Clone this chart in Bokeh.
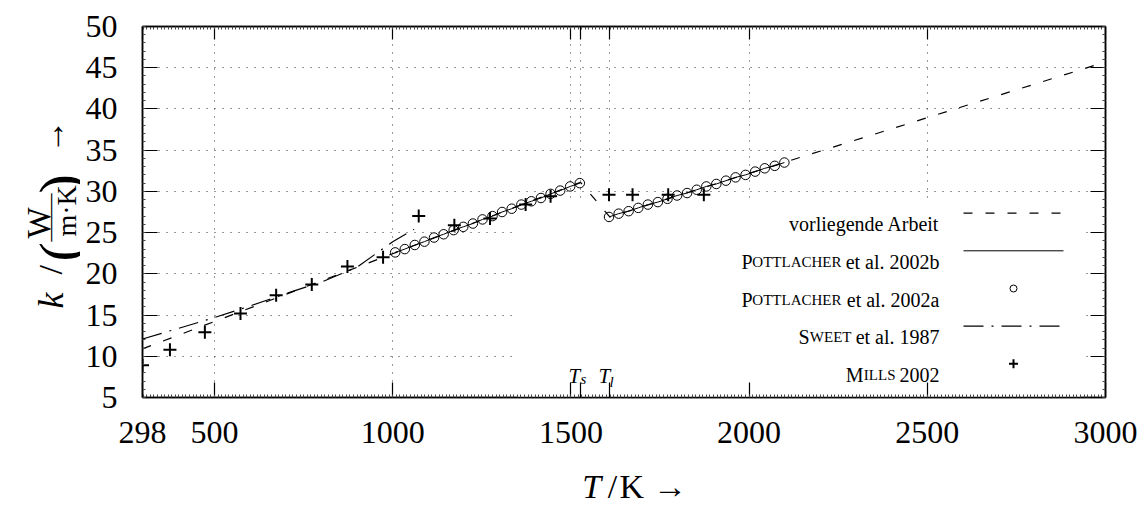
import math
from bokeh.plotting import figure
from bokeh.layouts import row, column
from bokeh.models import Range1d, FixedTicker, LinearAxis, Label
from bokeh.core.properties import value
from bokeh.embed import file_html
from bokeh.resources import INLINE

# ---------------- data ----------------
# vorliegende Arbeit (dashed)
T_present = [298, 1527, 1609, 3000]
k_present = [10.9, 31.1, 26.9, 45.7]

# Pottlacher et al. 2002a (circles) / 2002b (solid line), solid phase
T_pott_s = [1007, 1034, 1062, 1089, 1116, 1143, 1171, 1198, 1225, 1252,
            1280, 1307, 1334, 1361, 1389, 1416, 1443, 1470, 1498, 1525]
k_pott_s = [22.6, 23.0, 23.5, 23.9, 24.4, 24.8, 25.3, 25.7, 26.1, 26.6,
            27.0, 27.5, 27.9, 28.4, 28.8, 29.2, 29.7, 30.1, 30.6, 31.0]
# liquid phase
T_pott_l = [1607, 1634, 1662, 1689, 1716, 1744, 1771, 1798, 1826, 1853,
            1880, 1908, 1935, 1962, 1990, 2017, 2044, 2072, 2099]
k_pott_l = [26.9, 27.3, 27.6, 28.0, 28.4, 28.7, 29.1, 29.5, 29.8, 30.2,
            30.6, 30.9, 31.3, 31.7, 32.0, 32.4, 32.8, 33.1, 33.5]

# Sweet et al. 1987 (dash-dot)
T_sweet = [298, 400, 500, 600, 700, 800, 900, 1000, 1060]
k_sweet = [12.1, 13.4, 14.7, 16.1, 17.6, 19.0, 20.8, 23.9, 25.4]

# Mills 2002 (+)
T_mills = [298, 375, 473, 573, 673, 773, 873, 973, 1073, 1173, 1273,
           1373, 1443, 1607, 1673, 1773, 1873]
k_mills = [8.9, 10.8, 12.9, 15.2, 17.4, 18.7, 20.9, 22.0, 27.0, 25.9, 26.7,
           28.4, 29.4, 29.6, 29.6, 29.6, 29.6]

T_s, T_l = 1527, 1609
x_ticks = [298, 500, 1000, 1500, T_s, T_l, 2000, 2500, 3000]
x_grid = [500, 1000, 1500, T_s, T_l, 2000, 2500]
x_minor = list(range(300, 3000, 10))
y_ticks = [5, 10, 15, 20, 25, 30, 35, 40, 45, 50]
y_grid = [10, 15, 20, 25, 30, 35, 40, 45]
y_minor = list(range(5, 51, 1))

legend_labels = ["vorliegende Arbeit", "Pottlacher et al. 2002b",
                 "Pottlacher et al. 2002a", "Sweet et al. 1987", "Mills 2002"]

# ---------------- layout ----------------
W, H = 1144, 505
LW = 80          # width of the strip carrying the y-axis title
BH = 45          # height of the strip carrying the x-axis title
FX0, FX1, FY0, FY1 = 142, 1105, 26, 397   # frame in page pixels
X0, X1, Y0, Y1 = 298, 3000, 5, 50
FONT = "Liberation Serif"


def dx(px):
    return X0 + (px - FX0) / (FX1 - FX0) * (X1 - X0)


def dy(py):
    return Y1 - (py - FY0) / (FY1 - FY0) * (Y1 - Y0)


p = figure(width=W - LW, height=H - BH, x_range=Range1d(X0, X1), y_range=Range1d(Y0, Y1),
           output_backend="svg", toolbar_location=None, title=None,
           min_border_left=FX0 - LW, min_border_right=W - FX1,
           min_border_top=FY0, min_border_bottom=H - BH - FY1)
p.background_fill_color = "white"
p.border_fill_color = "white"
p.outline_line_color = "black"
p.outline_line_width = 1.5


def style_axis(ax, tick_in):
    ax.axis_line_color = "black"
    ax.axis_line_width = 1.5
    ax.major_tick_in = tick_in
    ax.major_tick_out = 0
    ax.minor_tick_in = 3
    ax.minor_tick_out = 0
    ax.major_tick_line_color = "black"
    ax.minor_tick_line_color = "#444444"
    ax.major_tick_line_width = 1.2
    ax.major_label_text_font = FONT
    ax.major_label_text_font_size = "32px"
    ax.major_label_text_color = "black"


p.xaxis.ticker = FixedTicker(ticks=x_ticks, minor_ticks=x_minor)
p.xaxis.major_label_overrides = {T_s: "", T_l: ""}
p.xaxis.major_label_standoff = 24
style_axis(p.xaxis[0], 15)
p.yaxis.ticker = FixedTicker(ticks=y_ticks, minor_ticks=y_minor)
p.yaxis.major_label_standoff = 25
style_axis(p.yaxis[0], 15)

top_ax = LinearAxis(ticker=FixedTicker(ticks=x_ticks, minor_ticks=x_minor),
                    major_label_overrides={t: "" for t in x_ticks}, major_label_standoff=0)
style_axis(top_ax, 13)
p.add_layout(top_ax, "above")
right_ax = LinearAxis(ticker=FixedTicker(ticks=y_ticks, minor_ticks=y_minor),
                      major_label_overrides={t: "" for t in y_ticks}, major_label_standoff=0)
style_axis(right_ax, 15)
p.add_layout(right_ax, "right")

p.xgrid.ticker = FixedTicker(ticks=x_grid)
p.ygrid.ticker = FixedTicker(ticks=y_grid)
for g in (p.xgrid[0], p.ygrid[0]):
    g.grid_line_color = "#333333"
    g.grid_line_dash = "1 7"
    g.grid_line_width = 1

# legend background (white box hides grid)
p.quad(left=[dx(517)], right=[dx(1080)], bottom=[dy(FY1)], top=[dy(198)],
       fill_color="white", line_color=None)

# ---------------- data glyphs ----------------
DASH = "9 13"
DASHDOT = "20 8 2 8"
p.line(T_present, k_present, line_color="black", line_width=1.2, line_dash=DASH)
p.line(T_sweet, k_sweet, line_color="black", line_width=1.2, line_dash=DASHDOT)
p.line(T_pott_s, k_pott_s, line_color="black", line_width=1)
p.line(T_pott_l, k_pott_l, line_color="black", line_width=1)
p.scatter(T_pott_s + T_pott_l, k_pott_s + k_pott_l, marker="circle", size=9.5,
          fill_alpha=0, line_color="black", line_width=1)
p.scatter(T_mills, k_mills, marker="cross", size=13, line_color="black", line_width=2)


def lab(px, py, text, size, style="normal", align="left", angle=0.0):
    p.add_layout(Label(x=dx(px), y=dy(py), text=text, text_font=FONT,
                       text_font_size=f"{size}px", text_font_style=style,
                       text_align=align, text_baseline="alphabetic",
                       text_color="black", angle=angle))


# ---------------- legend ----------------
rows = [212.7, 250.3, 288.0, 325.6, 363.3]
sx0, sx1, smid = 963, 1063, 1013
p.line([dx(sx0), dx(sx1)], [dy(rows[0])] * 2, line_color="black", line_width=1.2, line_dash=DASH)
p.line([dx(sx0), dx(sx1)], [dy(rows[1])] * 2, line_color="black", line_width=1)
p.scatter([dx(smid)], [dy(rows[2])], marker="circle", size=7, fill_alpha=0,
          line_color="black", line_width=1)
p.line([dx(sx0), dx(sx1 - 3)], [dy(rows[3])] * 2, line_color="black", line_width=1.2,
       line_dash=DASHDOT)
p.scatter([dx(smid)], [dy(rows[4])], marker="cross", size=9, line_color="black", line_width=2)

TR = 939
BL = 11
lab(TR, rows[0] + BL, legend_labels[0], 20, align="right")
for i, yr in ((1, "2002b"), (2, "2002a")):
    lab(TR, rows[i] + BL, "et al. " + yr, 20, align="right")
    lab(841, rows[i] + BL, "OTTLACHER", 15, align="right")
    lab(752, rows[i] + BL, "P", 20, align="right")
lab(TR, rows[3] + BL, "et al. 1987", 20, align="right")
lab(851, rows[3] + BL, "WEET", 15, align="right")
lab(809, rows[3] + BL, "S", 20, align="right")
lab(TR, rows[4] + BL, "2002", 20, align="right")
lab(895, rows[4] + BL, "ILLS", 15, align="right")
lab(863, rows[4] + BL, "M", 20, align="right")

# Ts / Tl markers
lab(568, 375, "T", 21, style="italic")
lab(580, 378, "s", 15, style="italic")
lab(598, 375, "T", 21, style="italic")
lab(609, 381, "l", 15, style="italic")


# ---------------- axis titles (own strips, pixel coordinates) ----------------
def strip(w, h):
    f = figure(width=w, height=h, x_range=Range1d(0, w), y_range=Range1d(0, h),
               output_backend="svg", toolbar_location=None, x_axis_type=None,
               y_axis_type=None, min_border=0, title=None)
    f.outline_line_color = None
    f.grid.visible = False
    f.background_fill_color = "white"
    f.border_fill_color = "white"
    return f


def stext(f, h, x, y, text, size, style="normal", angle=0.0):
    # x, y in pixels from the strip's top-left corner
    f.text(x=[x], y=[h - y], text=[text], text_font=value(FONT), text_font_size=f"{size}px",
           text_font_style=style, text_align="left", text_baseline="alphabetic",
           text_color="black", angle=angle, angle_units="rad")


# y: k / (W / m.K) ->  (rotated counter-clockwise), page pixel coordinates
pl = strip(LW, H)
A = math.pi / 2
stext(pl, H, 50, 308, "k", 36, style="italic", angle=A)
stext(pl, H, 50, 274, "/", 34, angle=A)
stext(pl, H, 59, 261, "(", 58, angle=A)
stext(pl, H, 38, 238, "W", 33, angle=A)
stext(pl, H, 48, 241, "\u2014\u2014", 24, angle=A)
stext(pl, H, 66, 236, "m\u00b7K", 28, angle=A)
stext(pl, H, 59, 193, ")", 58, angle=A)
stext(pl, H, 52, 153, "\u2192", 34, angle=A)

# x: T/K ->
pb = strip(W - LW, BH)
BY = 486 - (H - BH)
stext(pb, BH, 566 - LW, BY, "T", 34, style="italic")
stext(pb, BH, 594 - LW, BY, "/", 34)
stext(pb, BH, 607 - LW, BY, "K", 34)
stext(pb, BH, 644 - LW, BY, "\u2192", 34)

layout = row(pl, column(p, pb, spacing=0), spacing=0)
open("out.html", "w").write(file_html(layout, INLINE))
